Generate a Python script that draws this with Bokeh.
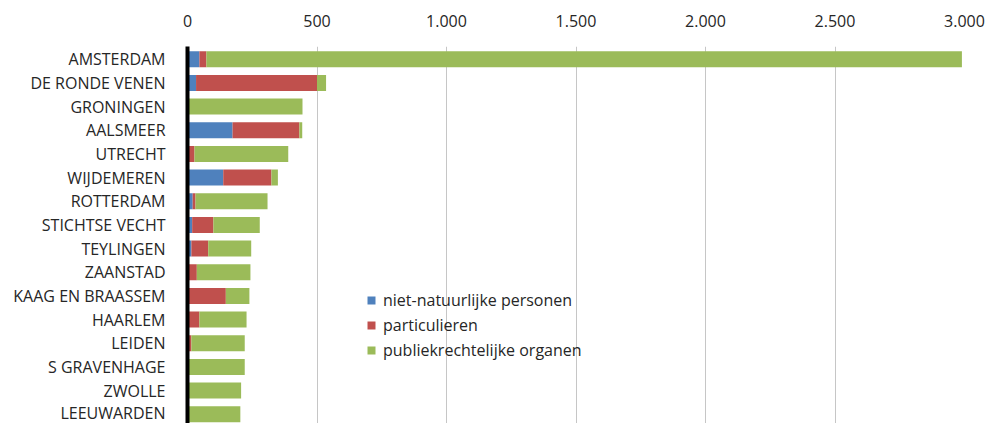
from bokeh.plotting import figure
from bokeh.models import ColumnDataSource, Range1d, FixedTicker, Legend
from bokeh.embed import file_html
from bokeh.resources import INLINE

cities = ["AMSTERDAM", "DE RONDE VENEN", "GRONINGEN", "AALSMEER", "UTRECHT", "WIJDEMEREN",
          "ROTTERDAM", "STICHTSE VECHT", "TEYLINGEN", "ZAANSTAD", "KAAG EN BRAASSEM",
          "HAARLEM", "LEIDEN", "S GRAVENHAGE", "ZWOLLE", "LEEUWARDEN"]
niet_natuurlijk = [46, 33, 2, 174, 4, 138, 20, 18, 15, 4, 3, 3, 2, 2, 2, 2]
particulieren = [27, 467, 2, 258, 23, 186, 11, 82, 65, 32, 145, 43, 13, 3, 2, 2]
publiekrechtelijk = [2917, 35, 440, 11, 362, 25, 278, 179, 166, 207, 91, 182, 206, 216, 203, 200]
series_names = ["niet-natuurlijke personen", "particulieren", "publiekrechtelijke organen"]
x_ticks = [0, 500, 1000, 1500, 2000, 2500, 3000]
colors = ["#4f81bd", "#c0504d", "#9bbb59"]

n = len(cities)
pos = [n - 1 - i for i in range(n)]
src = ColumnDataSource(dict(y=pos, a=niet_natuurlijk, b=particulieren, c=publiekrechtelijk))

FONT = "Open Sans"
W, H = 987, 423
p = figure(width=W, height=H, output_backend="svg", toolbar_location=None,
           x_axis_location="above", x_range=Range1d(0, 3000),
           y_range=Range1d(-0.39, n - 1 + 0.54),
           min_border_left=187, min_border_right=W - 964,
           min_border_top=46, min_border_bottom=0)
p.outline_line_color = None

rs = p.hbar_stack(["a", "b", "c"], y="y", height=0.676, color=colors, source=src,
                  line_color=None)

legend = Legend(items=[(series_names[i], [rs[i]]) for i in range(3)],
                location=(179, 61), background_fill_alpha=0, border_line_color=None,
                padding=0, margin=0, spacing=0, label_height=25, glyph_width=10,
                glyph_height=10, label_standoff=7, label_text_font=FONT,
                label_text_font_size="16px", label_text_color="#262626")
p.add_layout(legend, "center")

xa = p.xaxis[0]
xa.ticker = FixedTicker(ticks=x_ticks)
xa.major_label_overrides = {t: f"{t:,}".replace(",", ".") for t in x_ticks}
xa.axis_line_color = None
xa.major_tick_line_color = None
xa.minor_tick_line_color = None
xa.major_label_standoff = 14
xa.major_label_text_font = FONT
xa.major_label_text_font_size = "16px"
xa.major_label_text_color = "#262626"

ya = p.yaxis[0]
ya.ticker = FixedTicker(ticks=pos)
ya.major_label_overrides = {pos[i]: cities[i] for i in range(n)}
ya.axis_line_color = "black"
ya.axis_line_width = 4
ya.major_tick_line_color = None
ya.minor_tick_line_color = None
ya.major_label_standoff = 16
ya.major_label_text_font = FONT
ya.major_label_text_font_size = "16px"
ya.major_label_text_color = "#262626"

p.xgrid.grid_line_color = "#c6c6c6"
p.xgrid.ticker = FixedTicker(ticks=x_ticks)
p.ygrid.grid_line_color = None

open("out.html", "w").write(file_html(p, INLINE))
